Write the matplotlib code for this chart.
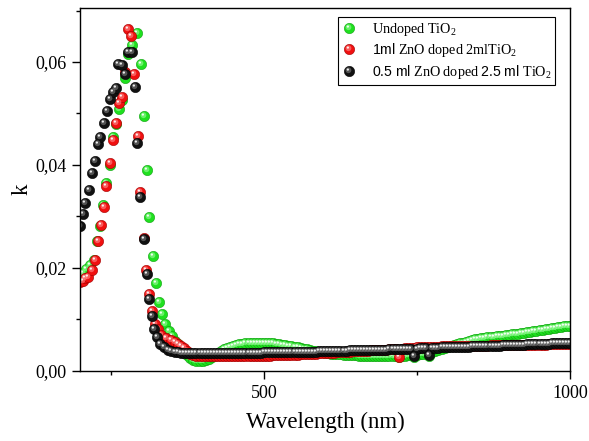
import numpy as np
import matplotlib
matplotlib.use('Agg')
import matplotlib.pyplot as plt
from matplotlib.path import Path
from matplotlib.lines import Line2D
from matplotlib.legend_handler import HandlerTuple
from matplotlib.ticker import MultipleLocator, FuncFormatter

plt.rcParams['font.family'] = 'Liberation Serif'
plt.rcParams['mathtext.fontset'] = 'custom'
plt.rcParams['mathtext.rm'] = 'Liberation Serif'
plt.rcParams['mathtext.sf'] = 'Liberation Sans'
plt.rcParams['mathtext.it'] = 'Liberation Serif:italic'
plt.rcParams['mathtext.bf'] = 'Liberation Serif:bold'

# steep UV part (nm, k)
wl_green = [201, 204, 210, 216, 222, 228, 233, 238, 243, 248, 254, 259, 264, 268, 273, 278,
            284, 293, 299, 304, 309, 313, 319, 324, 328, 334, 339, 345, 350, 355]
k_green = [.0188, .0190, .0197, .0205, .0216, .0253, .0282, .0323, .0364, .0399, .0454, .0480,
           .0508, .0526, .0569, .0616, .0633, .0656, .0597, .0496, .0391, .0298, .0224, .0170,
           .0134, .0111, .0092, .0078, .0067, .0059]

wl_red = [200, 204, 208, 213, 219, 224, 229, 234, 239, 243, 248, 254, 258, 264, 269, 273, 278,
          283, 288, 294, 298, 304, 308, 313, 318, 323, 327, 332, 340, 348, 355]
k_red = [.0172, .0175, .0180, .0183, .0195, .0215, .0253, .0283, .0318, .0359, .0404, .0448,
         .0481, .0521, .0532, .0580, .0665, .0650, .0577, .0456, .0347, .0259, .0195, .0150,
         .0116, .0092, .0082, .0069, .0063, .0060, .0057]

wl_black = [200, 204, 208, 214, 219, 224, 229, 232, 239, 244, 248, 253, 258, 262, 269, 274, 279,
            284, 289, 293, 298, 305, 309, 312, 317, 321, 326, 331, 337, 343, 348, 355]
k_black = [.0282, .0305, .0327, .0352, .0384, .0407, .0440, .0455, .0481, .0505, .0529, .0542,
           .0550, .0597, .0595, .0576, .0619, .0619, .0552, .0442, .0338, .0256, .0188, .0140,
           .0106, .0082, .0065, .0053, .0046, .0041, .0039, .0037]

# visible / NIR part, every 5 nm from 360 to 1000
wl_tail = list(range(360, 1001, 5))
k_green_tail = [
    .0052, .0045, .0037, .0030, .0025, .0022, .0020, .0019, .0020, .0022,
    .0024, .0027, .0031, .0035, .0039, .0042, .0045, .0047, .0049, .0051,
    .0052, .0053, .0054, .0054, .0055, .0055, .0055, .0055, .0055, .0055,
    .0054, .0054, .0053, .0052, .0051, .0050, .0049, .0048, .0047, .0046,
    .0044, .0043, .0042, .0040, .0039, .0038, .0037, .0036, .0035, .0034,
    .0033, .0033, .0032, .0032, .0031, .0031, .0030, .0030, .0030, .0029,
    .0029, .0029, .0028, .0028, .0028, .0028, .0028, .0028, .0028, .0028,
    .0028, .0028, .0026, .0029, .0029, .0030, .0030, .0026, .0031, .0032,
    .0033, .0034, .0029, .0037, .0039, .0041, .0043, .0045, .0047, .0048,
    .0050, .0052, .0054, .0055, .0057, .0059, .0060, .0061, .0062, .0063,
    .0064, .0065, .0066, .0066, .0067, .0068, .0068, .0069, .0070, .0071,
    .0071, .0072, .0073, .0074, .0075, .0076, .0077, .0078, .0079, .0080,
    .0081, .0082, .0083, .0084, .0085, .0086, .0087, .0088, .0088]
k_red_tail = [
    .0053, .0049, .0044, .0038, .0033, .0030, .0029, .0028, .0028, .0028,
    .0028, .0028, .0028, .0028, .0028, .0028, .0028, .0028, .0028, .0028,
    .0028, .0028, .0028, .0028, .0029, .0029, .0029, .0029, .0029, .0029,
    .0029, .0030, .0030, .0030, .0030, .0030, .0031, .0031, .0031, .0031,
    .0032, .0032, .0032, .0033, .0033, .0033, .0034, .0034, .0034, .0035,
    .0035, .0035, .0036, .0036, .0037, .0037, .0037, .0038, .0038, .0038,
    .0039, .0039, .0039, .0040, .0040, .0040, .0041, .0041, .0041, .0042,
    .0042, .0042, .0027, .0043, .0044, .0044, .0045, .0045, .0046, .0046,
    .0046, .0047, .0047, .0047, .0047, .0047, .0048, .0048, .0048, .0048,
    .0048, .0048, .0048, .0048, .0049, .0049, .0049, .0049, .0049, .0049,
    .0049, .0049, .0050, .0050, .0050, .0050, .0050, .0050, .0050, .0050,
    .0050, .0050, .0051, .0051, .0051, .0051, .0051, .0051, .0051, .0051,
    .0051, .0052, .0052, .0052, .0052, .0052, .0052, .0052, .0052]
k_black_tail = [
    .0036, .0035, .0035, .0034, .0034, .0034, .0034, .0034, .0034, .0034,
    .0034, .0034, .0034, .0034, .0034, .0034, .0034, .0034, .0034, .0035,
    .0035, .0035, .0035, .0035, .0035, .0035, .0035, .0035, .0036, .0036,
    .0036, .0036, .0036, .0036, .0036, .0036, .0036, .0036, .0036, .0037,
    .0037, .0037, .0037, .0037, .0037, .0037, .0038, .0038, .0038, .0038,
    .0038, .0039, .0039, .0039, .0039, .0039, .0040, .0040, .0040, .0040,
    .0040, .0040, .0041, .0041, .0041, .0041, .0041, .0041, .0041, .0042,
    .0042, .0042, .0042, .0042, .0042, .0043, .0043, .0028, .0043, .0044,
    .0044, .0044, .0031, .0045, .0045, .0045, .0046, .0046, .0046, .0046,
    .0046, .0047, .0047, .0047, .0047, .0047, .0048, .0048, .0048, .0048,
    .0048, .0049, .0049, .0049, .0049, .0049, .0050, .0050, .0050, .0050,
    .0051, .0051, .0051, .0051, .0052, .0052, .0052, .0052, .0053, .0053,
    .0053, .0053, .0054, .0054, .0054, .0054, .0055, .0055, .0055]

labels = ['Undoped TiO$_2$',
          r'$\mathsf{1ml}$ ZnO doped 2mlTiO$_2$',
          r'$\mathsf{0.5\ ml}$ ZnO doped $\mathsf{2.5\ ml}$ TiO$_2$']
colors = ['#1fe01f', '#f01010', '#111111']
edges = ['#10a010', '#a00000', '#000000']
shines = ['#a8ffa8', '#ff9a9a', '#8a8a8a']


def blob(cx, cy, r):
    # circle marker off-centre; the lone MOVETO keeps marker scaling fixed
    c = Path.circle((cx, cy), r)
    anchor = Path([(0.5, 0.5)], [Path.MOVETO])
    return Path.make_compound_path(anchor, c)


shine_big = blob(-0.1, 0.12, 0.28)
shine_small = blob(-0.16, 0.19, 0.11)

fig = plt.figure(figsize=(5.89, 4.41), dpi=100)
ax = fig.add_axes([0.136, 0.159, 0.832, 0.823])

s = 55
series = [(wl_green + wl_tail, k_green + k_green_tail),
          (wl_red + wl_tail, k_red + k_red_tail),
          (wl_black + wl_tail, k_black + k_black_tail)]
handles = []
for (x, y), c, e, sh, lab in zip(series, colors, edges, shines, labels):
    ax.scatter(x, y, s=s, c=c, edgecolors=e, linewidths=0.4, zorder=2)
    ax.scatter(x, y, s=s, c=sh, marker=shine_big, linewidths=0, alpha=0.55, zorder=2)
    ax.scatter(x, y, s=s, c='white', marker=shine_small, linewidths=0, alpha=0.9, zorder=2)
    ms = np.sqrt(s)
    h = (Line2D([], [], ls='none', marker='o', ms=ms, mfc=c, mec=e, mew=0.4),
         Line2D([], [], ls='none', marker=shine_big, ms=ms, mfc=sh, mew=0, alpha=0.55),
         Line2D([], [], ls='none', marker=shine_small, ms=ms, mfc='white', mew=0, alpha=0.9))
    handles.append(h)

ax.set_xlim(200, 1000)
ax.set_ylim(0, 0.0705)
ax.xaxis.set_major_locator(MultipleLocator(500))
ax.xaxis.set_minor_locator(MultipleLocator(250))
ax.yaxis.set_major_locator(MultipleLocator(0.02))
ax.yaxis.set_minor_locator(MultipleLocator(0.01))
ax.yaxis.set_major_formatter(FuncFormatter(lambda v, p: f'{v:.2f}'.replace('.', ',')))
ax.tick_params(which='major', direction='out', length=6, width=1, labelsize=13, pad=4)
ax.tick_params(which='minor', direction='out', length=3, width=1)
ax.tick_params(top=False, right=False)
for sp in ax.spines.values():
    sp.set_linewidth(1.0)

ax.set_xlabel('Wavelength (nm)', fontsize=16.5, labelpad=7)
ax.set_ylabel('k', fontsize=16.5, labelpad=2)

leg = ax.legend(handles, labels, handler_map={tuple: HandlerTuple(ndivide=1)},
                loc='upper right', bbox_to_anchor=(0.97, 0.976), borderaxespad=0,
                fontsize=10.2, frameon=True, fancybox=False, edgecolor='black',
                framealpha=1, handlelength=1.0, handletextpad=1.1, borderpad=0.3,
                labelspacing=0.25)
leg.get_frame().set_linewidth(0.8)

fig.savefig('out.png', dpi=100)
